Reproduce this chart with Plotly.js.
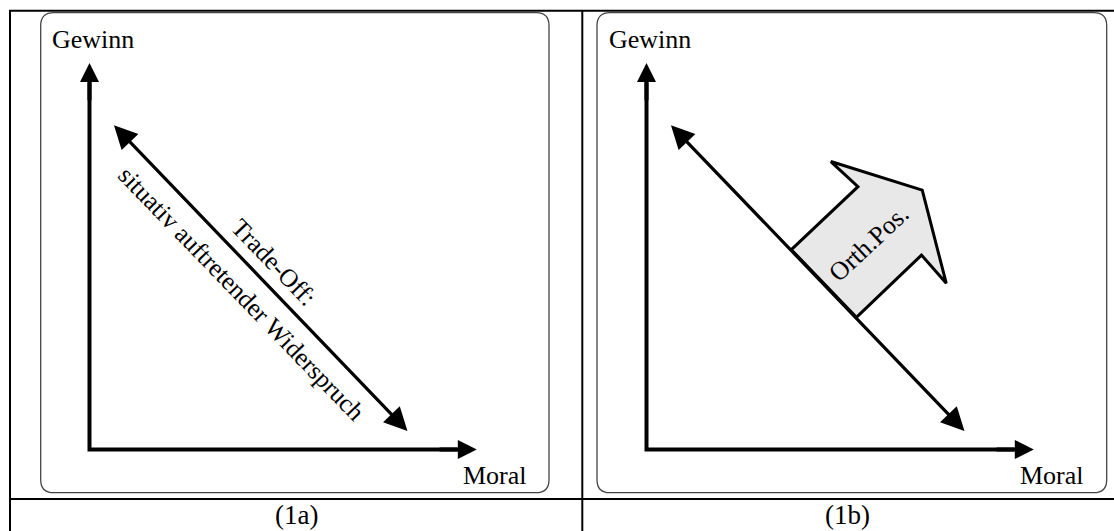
<!DOCTYPE html>
<html><head><meta charset="utf-8">
<script src="https://cdn.plot.ly/plotly-3.0.1.min.js"></script>
<style>html,body{margin:0;padding:0;background:#fff;overflow:hidden;}</style>
</head><body>
<div id="chart" style="width:1114px;height:531px;"></div>
<script>
// ---- diagram values (diagram units: both axes run from 0 to 10) ----
const panelCaptions = ['(1a)', '(1b)'];
const xAxisName = 'Moral';
const yAxisName = 'Gewinn';
const axisLength = 10;
const tradeOffX = [0.594, 8.21];
const tradeOffY = [8.43, 0.48];
const tradeOffLabels = ['Trade-Off:', 'situativ auftretender Widerspruch'];
const orthPosX = [3.74, 5.46, 4.76, 7.12, 7.74, 7.10, 5.42];
const orthPosY = [5.17, 6.80, 7.45, 6.71, 4.30, 5.03, 3.42];
const orthPosLabel = 'Orth.Pos.';

// ---- layout helpers ----
const W = 1114, H = 531;
const FONT = 'Liberation Serif, Times New Roman, serif';
const px = v => v / W, py = v => 1 - v / H;

function roundRect(x0, y0, x1, y1, r) {
  const P = (x, y) => px(x) + ',' + py(y);
  return 'M' + P(x0 + r, y0) + ' L' + P(x1 - r, y0) + ' Q' + P(x1, y0) + ' ' + P(x1, y0 + r) +
    ' L' + P(x1, y1 - r) + ' Q' + P(x1, y1) + ' ' + P(x1 - r, y1) +
    ' L' + P(x0 + r, y1) + ' Q' + P(x0, y1) + ' ' + P(x0, y1 - r) +
    ' L' + P(x0, y0 + r) + ' Q' + P(x0, y0) + ' ' + P(x0 + r, y0) + ' Z';
}

const panels = [{xa: 'x', caption: panelCaptions[0], cx: 296}, {xa: 'x2', caption: panelCaptions[1], cx: 847}];
const traces = [];
const annotations = [];

panels.forEach((p, i) => {
  // axes L-shape
  traces.push({
    x: [0, 0, axisLength * 0.95], y: [axisLength * 0.95, 0, 0],
    xaxis: p.xa, yaxis: 'y', mode: 'lines', hoverinfo: 'skip',
    line: {color: '#000', width: 4}
  });
  // axis arrow heads
  annotations.push({x: axisLength, y: 0, ax: axisLength * 0.9, ay: 0, xref: p.xa, yref: 'y', axref: p.xa, ayref: 'y',
    text: '', showarrow: true, arrowhead: 2, arrowsize: 0.95, arrowwidth: 4, arrowcolor: '#000'});
  annotations.push({x: 0, y: axisLength, ax: 0, ay: axisLength * 0.9, xref: p.xa, yref: 'y', axref: p.xa, ayref: 'y',
    text: '', showarrow: true, arrowhead: 2, arrowsize: 0.95, arrowwidth: 4, arrowcolor: '#000'});
  // trade-off double arrow
  annotations.push({x: tradeOffX[1], y: tradeOffY[1], ax: tradeOffX[0], ay: tradeOffY[0],
    xref: p.xa, yref: 'y', axref: p.xa, ayref: 'y', text: '', showarrow: true,
    arrowside: 'end+start', arrowhead: 2, startarrowhead: 2, arrowsize: 1.45, startarrowsize: 1.45,
    arrowwidth: 3.2, arrowcolor: '#000'});
  // axis names
  annotations.push({x: -1.03, y: 10.6, xref: p.xa, yref: 'y', text: yAxisName, showarrow: false,
    xanchor: 'left', yanchor: 'middle', font: {family: FONT, size: 26, color: '#000'}});
  annotations.push({x: 11.35, y: -0.67, xref: p.xa, yref: 'y', text: xAxisName, showarrow: false,
    xanchor: 'right', yanchor: 'middle', font: {family: FONT, size: 26, color: '#000'}});
  // caption
  annotations.push({x: px(p.cx), y: py(514.5), xref: 'paper', yref: 'paper', text: p.caption, showarrow: false,
    xanchor: 'center', yanchor: 'middle', font: {family: FONT, size: 27, color: '#000'}});
});

// panel (1a) labels
annotations.push({x: 4.76, y: 4.83, xref: 'x', yref: 'y', text: tradeOffLabels[0], showarrow: false,
  textangle: 46, xanchor: 'center', yanchor: 'middle', font: {family: FONT, size: 25.5, color: '#000'}});
annotations.push({x: 3.92, y: 4.04, xref: 'x', yref: 'y', text: tradeOffLabels[1], showarrow: false,
  textangle: 46, xanchor: 'center', yanchor: 'middle', font: {family: FONT, size: 25.5, color: '#000'}});

// panel (1b) orthogonal position arrow
traces.push({
  x: orthPosX.concat([orthPosX[0]]), y: orthPosY.concat([orthPosY[0]]),
  xaxis: 'x2', yaxis: 'y', mode: 'lines', fill: 'toself', fillcolor: '#e8e8e8', hoverinfo: 'skip',
  line: {color: '#000', width: 3}
});
annotations.push({x: 5.74, y: 5.32, xref: 'x2', yref: 'y', text: orthPosLabel, showarrow: false,
  textangle: -43, xanchor: 'center', yanchor: 'middle', font: {family: FONT, size: 26, color: '#000'}});

const shapes = [
  {type: 'path', xref: 'paper', yref: 'paper', path: roundRect(40.7, 12.7, 549, 492.7, 13), line: {color: '#444', width: 1.3}},
  {type: 'path', xref: 'paper', yref: 'paper', path: roundRect(597, 12.7, 1106.7, 492.7, 13), line: {color: '#444', width: 1.3}},
  {type: 'line', xref: 'paper', yref: 'paper', x0: px(10), x1: px(10), y0: py(10), y1: py(540), line: {color: '#000', width: 2}},
  {type: 'line', xref: 'paper', yref: 'paper', x0: px(9), x1: px(1120), y0: py(10.7), y1: py(10.7), line: {color: '#000', width: 2}},
  {type: 'line', xref: 'paper', yref: 'paper', x0: px(582.3), x1: px(582.3), y0: py(10), y1: py(540), line: {color: '#000', width: 2}},
  {type: 'line', xref: 'paper', yref: 'paper', x0: px(9), x1: px(1120), y0: py(499), y1: py(499), line: {color: '#000', width: 2}}
];

const axisCommon = {range: [-2.311, 12.071], visible: false, showgrid: false, zeroline: false, fixedrange: true};
const layout = {
  width: W, height: H, margin: {l: 0, r: 0, t: 0, b: 0},
  paper_bgcolor: '#fff', plot_bgcolor: 'rgba(0,0,0,0)', showlegend: false,
  xaxis: Object.assign({domain: [0, 0.5], anchor: 'y'}, axisCommon),
  xaxis2: Object.assign({domain: [0.5, 1], anchor: 'y'}, axisCommon),
  yaxis: {range: [-2.109, 11.630], domain: [0, 1], visible: false, showgrid: false, zeroline: false, fixedrange: true},
  shapes: shapes, annotations: annotations
};
Plotly.newPlot('chart', traces, layout, {staticPlot: true, displayModeBar: false});
</script>
</body></html>
